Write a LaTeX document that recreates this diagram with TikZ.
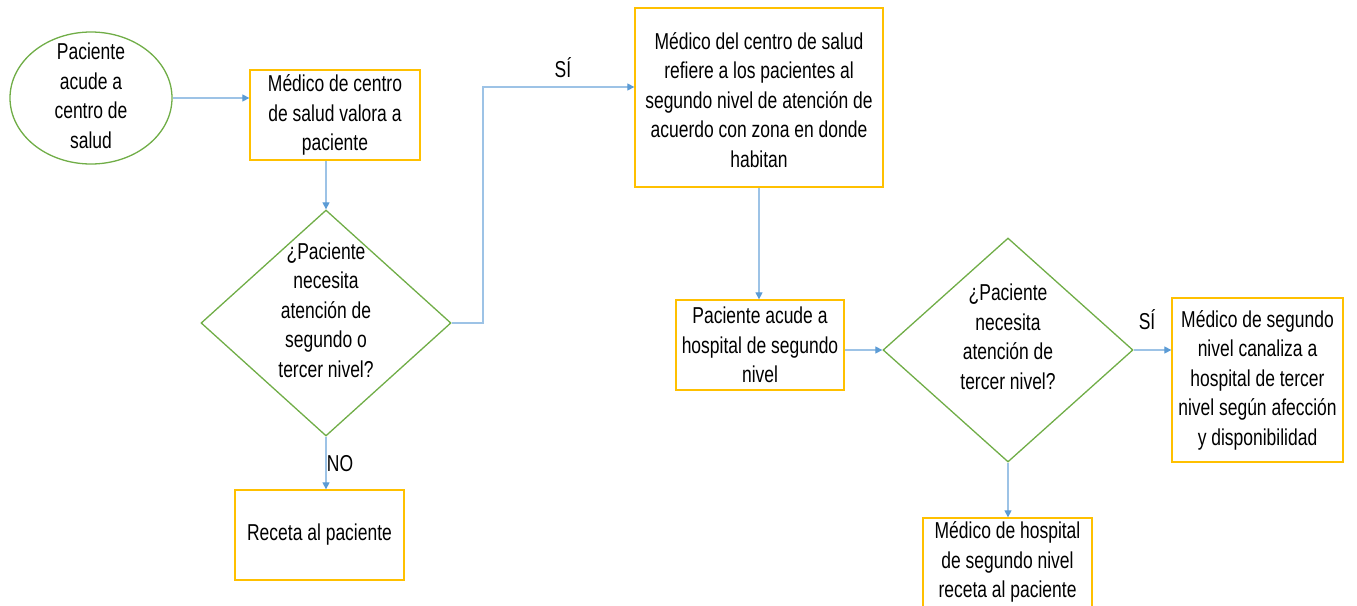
\documentclass[tikz,border=0pt]{standalone}
\usepackage{fontspec}
\setmainfont{Liberation Sans}[FakeStretch=0.76]
\usetikzlibrary{shapes.geometric,arrows.meta}
\definecolor{gr}{RGB}{112,173,71}
\definecolor{ye}{RGB}{255,192,0}
\definecolor{bl}{RGB}{91,155,213}
\definecolor{bll}{RGB}{157,195,230}
\tikzset{
  txt/.style={align=center,font=\fontsize{23}{29.5}\selectfont,inner sep=0pt},
  boxy/.style={draw=ye,line width=1.3pt,inner sep=0pt,rectangle},
  dia/.style={draw=gr,line width=1.3pt,shape=diamond,inner sep=0pt},
  ell/.style={draw=gr,line width=1.3pt,shape=ellipse,inner sep=0pt},
  con/.style={draw=bll,line width=1.2pt,-{Triangle[length=7pt,width=7pt,color=bl]}},
  lab/.style={font=\fontsize{23}{28}\selectfont,inner sep=0pt}
}
\begin{document}
\begin{tikzpicture}[x=1pt,y=-1pt]
\useasboundingbox (0,0) rectangle (1357,605);
% shapes
\node[ell,minimum width=162pt,minimum height=132pt] (e) at (91,98) {};
\node[txt] at (91,96) {Paciente\\acude a\\centro de\\salud};
\node[boxy,minimum width=170pt,minimum height=90pt] (b1) at (335,115) {};
\node[txt] at (b1) {Médico de centro\\de salud valora a\\paciente};
\node[dia,minimum width=250pt,minimum height=226pt] (d1) at (326,323) {};
\node[txt] at (326,310) {¿Paciente\\necesita\\atención de\\segundo o\\tercer nivel?};
\node[boxy,minimum width=169pt,minimum height=90pt] (r) at (319.5,535) {};
\node[txt] at (r) {Receta al paciente};
\node[boxy,minimum width=248pt,minimum height=179pt] (b2) at (759,97.5) {};
\node[txt] at (759,100) {Médico del centro de salud\\refiere a los pacientes al\\segundo nivel de atención de\\acuerdo con zona en donde\\habitan};
\node[boxy,minimum width=168pt,minimum height=90pt] (h) at (760,345) {};
\node[txt] at (h) {Paciente acude a\\hospital de segundo\\nivel};
\node[dia,minimum width=250pt,minimum height=224pt] (d2) at (1008,350) {};
\node[txt] at (1008,337) {¿Paciente\\necesita\\atención de\\tercer nivel?};
\node[boxy,minimum width=171pt,minimum height=164pt] (c) at (1257.5,380) {};
\node[txt] at (c) {Médico de segundo\\nivel canaliza a\\hospital de tercer\\nivel según afección\\y disponibilidad};
\node[boxy,minimum width=169pt,minimum height=110pt] (m) at (1007.5,573) {};
\node[txt] at (1007.5,562) {Médico de hospital\\de segundo nivel\\receta al paciente};
% connectors
\draw[con] (e.east) -- (b1.west |- e.east);
\draw[con] (b1.south -| d1.north) -- (d1.north);
\draw[con] (d1.south) -- (r.north -| d1.south);
\coordinate (k1) at (483,323);
\coordinate (k2) at (483,87);
\draw[con] (d1.east) -- (k1) -- (k2) -- (b2.west |- k2);
\draw[con] (b2.south) -- (h.north -| b2.south);
\draw[con] (h.east |- d2.west) -- (d2.west);
\draw[con] (d2.east) -- (c.west |- d2.east);
\draw[con] (d2.south) -- (m.north -| d2.south);
% labels
\node[lab] (l1) at (563,68) {SÍ};
\node[lab] (l2) at (340,464) {NO};
\node[lab] (l3) at (1147,320) {SÍ};
\end{tikzpicture}
\end{document}
